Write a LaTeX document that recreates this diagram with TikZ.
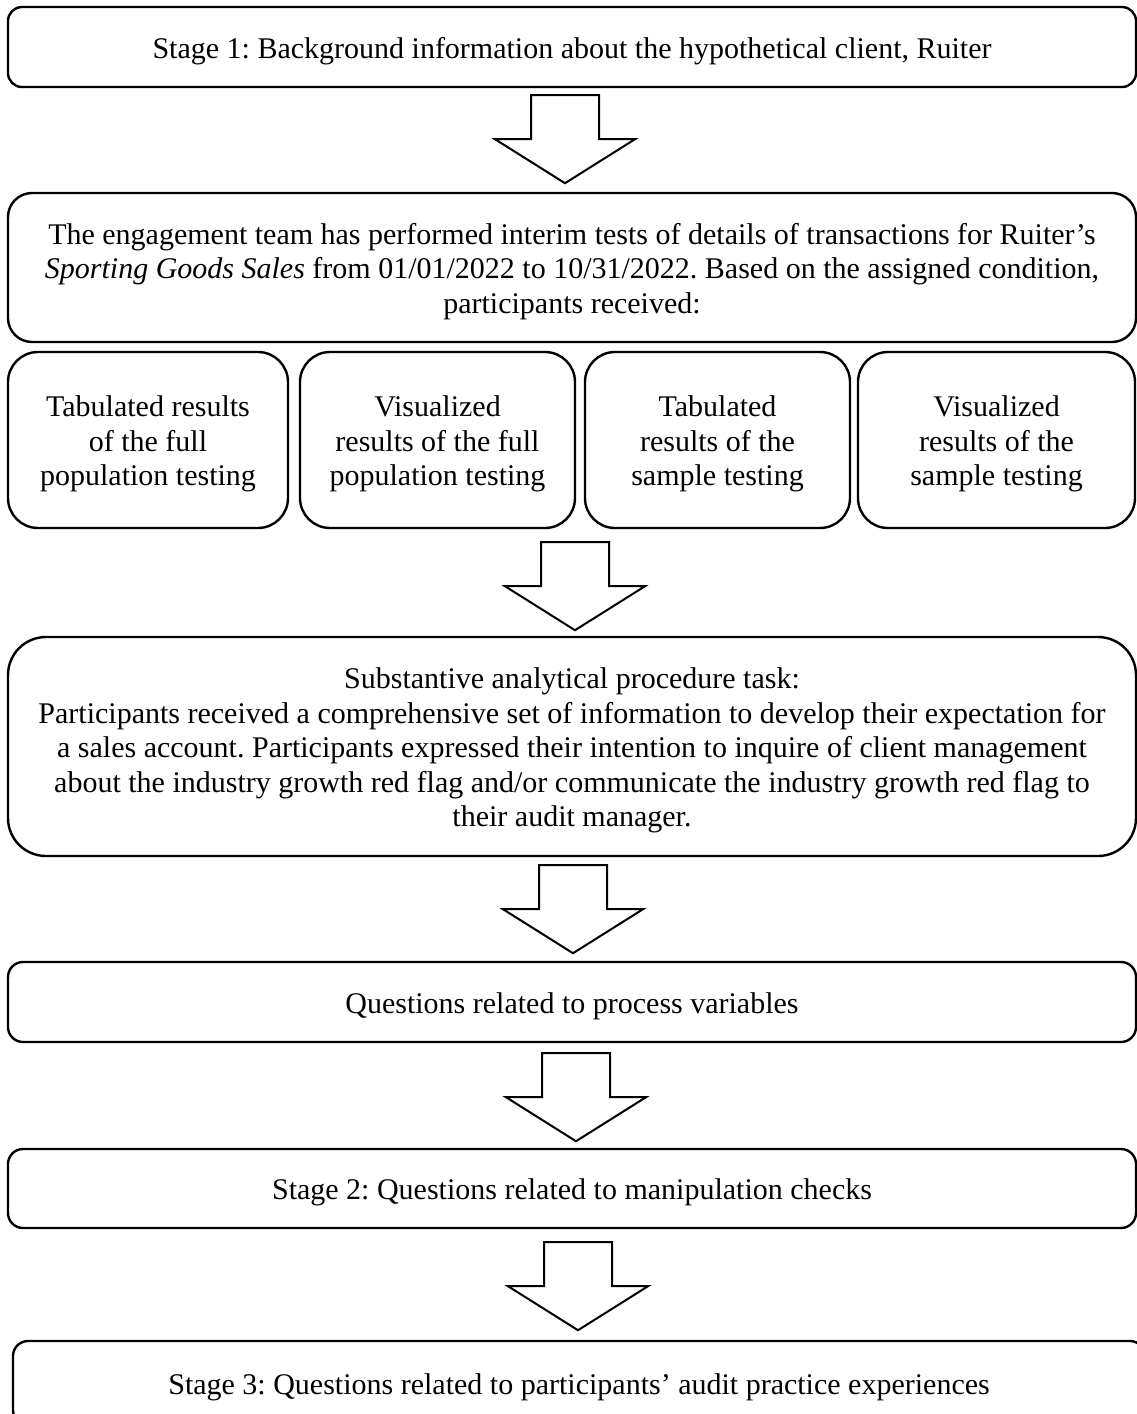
\documentclass[tikz,border=0pt]{standalone}
\usepackage{fontspec}
\setmainfont{Liberation Serif}
\usetikzlibrary{calc}
\frenchspacing
\newcommand\tstrut{\rule{0pt}{29pt}}
\begin{document}
\begin{tikzpicture}[x=1pt,y=-1pt,
  box/.style={draw, line width=2.4pt, rounded corners=#1, align=center, inner sep=0pt,
    font=\fontsize{30}{34.5}\selectfont\frenchspacing},
  box/.default=15pt,
  arrowline/.style={draw, line width=2pt, fill=white, line join=miter},
  downarrow/.pic={\path[arrowline] (-34,0) -- (34,0) -- (34,44) -- (70,44) -- (0,88) -- (-70,44) -- (-34,44) -- cycle;}]
\useasboundingbox (0,0) rectangle (1137,1414);
\clip (0,0) rectangle (1137,1414);

\node[box=14pt, minimum width=1128pt, minimum height=80pt] (b1) at (572,47)
  {\tstrut Stage 1: Background information about the hypothetical client, Ruiter};

\node[box=24pt, minimum width=1128pt, minimum height=149pt] (b2) at (572,267.5)
  {\tstrut The engagement team has performed interim tests of details of transactions for Ruiter’s\\
   \textit{Sporting Goods Sales} from 01/01/2022 to 10/31/2022. Based on the assigned condition,\\
   participants received:};

\node[box=30pt, minimum width=280pt, minimum height=176pt] (s1) at (148,440)
  {\tstrut Tabulated results\\ of the full\\ population testing};
\node[box=30pt, minimum width=275pt, minimum height=176pt] (s2) at (437.5,440)
  {\tstrut Visualized\\ results of the full\\ population testing};
\node[box=30pt, minimum width=265pt, minimum height=176pt] (s3) at (717.5,440)
  {\tstrut Tabulated\\ results of the\\ sample testing};
\node[box=30pt, minimum width=277pt, minimum height=176pt] (s4) at (996.5,440)
  {\tstrut Visualized\\ results of the\\ sample testing};

\node[box=38pt, minimum width=1128pt, minimum height=219pt] (b3) at (572,746.5)
  {\tstrut Substantive analytical procedure task:\\
   Participants received a comprehensive set of information to develop their expectation for\\
   a sales account. Participants expressed their intention to inquire of client management\\
   about the industry growth red flag and/or communicate the industry growth red flag to\\
   their audit manager.};

\node[box=15pt, minimum width=1128pt, minimum height=80pt] (b4) at (572,1002)
  {\tstrut Questions related to process variables};

\node[box=15pt, minimum width=1128pt, minimum height=79pt] (b5) at (572,1188.5)
  {\tstrut Stage 2: Questions related to manipulation checks};

\node[box=15pt, minimum width=1132pt, minimum height=84pt] (b6) at (579,1383)
  {\tstrut Stage 3: Questions related to participants’ audit practice experiences};

\pic at ($(b1.south)+(-7,7)$) {downarrow};
\pic at ($(b2.south |- s2.south)+(3,13)$) {downarrow};
\pic at ($(b3.south)+(1,8)$) {downarrow};
\pic at ($(b4.south)+(4,10)$) {downarrow};
\pic at ($(b5.south)+(6,13)$) {downarrow};
\end{tikzpicture}
\end{document}
